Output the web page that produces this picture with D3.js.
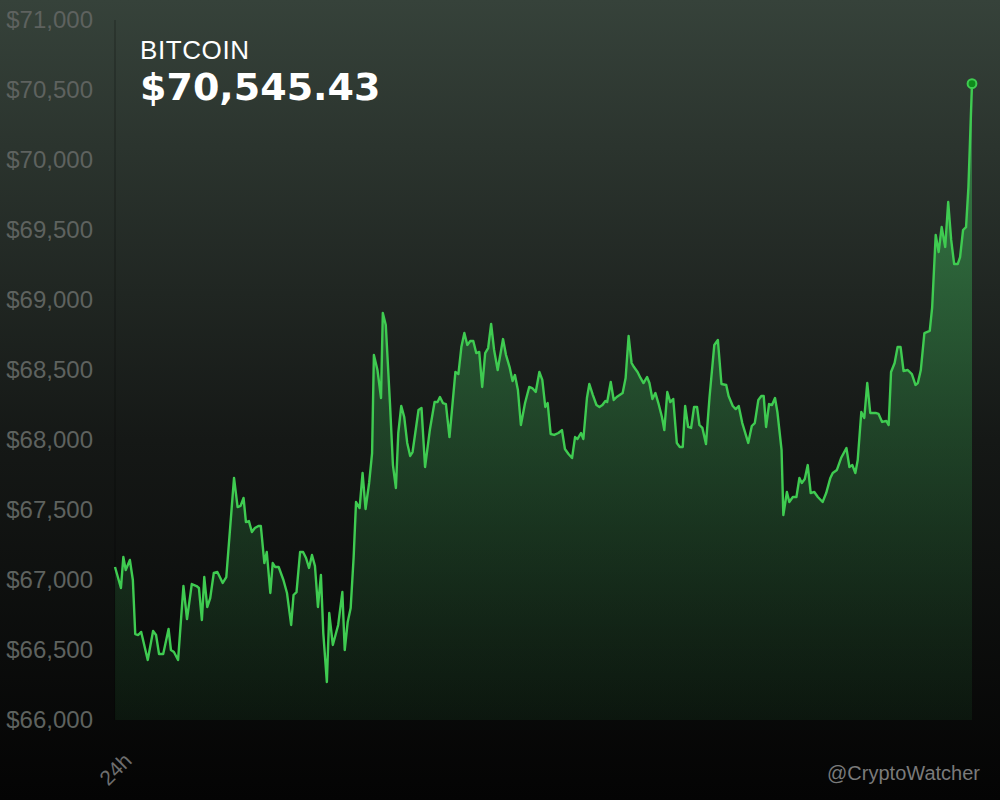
<!DOCTYPE html>
<html>
<head>
<meta charset="utf-8">
<script src="https://cdn.jsdelivr.net/npm/d3@7"></script>
<style>
  html, body { margin: 0; padding: 0; background: #050505; }
  svg { display: block; font-family: "Liberation Sans", Arial, sans-serif; }
</style>
</head>
<body>
<div id="chart"></div>
<script>
// Minutes since the start of the 24h window
var minutes = [
  0, 10, 14, 18, 25, 30, 34, 39, 44, 55, 64, 69, 74, 81, 90, 94, 99, 106, 115, 121,
  129, 137, 141, 146, 150, 155, 160, 166, 172, 181, 187, 200, 206, 211, 216, 220, 225, 230, 235, 241,
  245, 251, 255, 261, 265, 269, 275, 283, 289, 296, 300, 305, 311, 316, 321, 326, 331, 336, 341, 346,
  350, 356, 360, 366, 375, 382, 386, 391, 396, 401, 405, 411, 416, 421, 427, 432, 435, 441, 447, 450,
  455, 462, 467, 472, 476, 481, 486, 491, 496, 500, 510, 515, 521, 529, 537, 542, 546, 551, 556, 562,
  572, 577, 582, 587, 592, 597, 602, 607, 612, 617, 622, 627, 632, 637, 643, 652, 657, 663, 668, 672,
  677, 682, 689, 696, 701, 707, 713, 718, 723, 727, 732, 738, 745, 751, 756, 762, 768, 773, 777, 783,
  787, 793, 797, 803, 809, 814, 819, 824, 827, 833, 838, 843, 848, 853, 858, 863, 868, 872, 878, 883,
  888, 894, 898, 903, 908, 913, 919, 923, 928, 933, 938, 944, 949, 954, 958, 963, 968, 973, 978, 982,
  987, 993, 999, 1007, 1013, 1019, 1027, 1031, 1038, 1043, 1048, 1054, 1064, 1070, 1075, 1081, 1086, 1090, 1094, 1099,
  1104, 1109, 1113, 1120, 1123, 1129, 1133, 1139, 1145, 1150, 1154, 1159, 1164, 1169, 1175, 1181, 1189, 1195, 1202, 1206,
  1213, 1220, 1229, 1234, 1239, 1244, 1248, 1254, 1259, 1264, 1269, 1278, 1283, 1289, 1296, 1300, 1304, 1310, 1315, 1320,
  1325, 1332, 1339, 1345, 1349, 1354, 1360, 1369, 1373, 1379, 1384, 1389, 1395, 1400, 1405, 1410, 1416, 1420, 1425, 1430,
  1434, 1440
];

// BTC price (USD) at each of those minutes
var prices = [
  67093, 66943, 67164, 67071, 67143, 67000, 66614, 66607, 66629, 66429, 66636, 66607, 66471, 66471, 66650, 66500, 66486, 66429, 66957, 66721,
  66971, 66957, 66943, 66714, 67021, 66807, 66871, 67050, 67057, 66979, 67021, 67729, 67521, 67529, 67586, 67414, 67421, 67343, 67371, 67386,
  67386, 67121, 67200, 66907, 67121, 67093, 67093, 67000, 66907, 66679, 66893, 66914, 67200, 67200, 67157, 67086, 67179, 67100, 66807, 67036,
  66621, 66271, 66764, 66536, 66679, 66914, 66500, 66700, 66800, 67164, 67557, 67514, 67764, 67507, 67693, 67907, 68607, 68500, 68300, 68907,
  68821, 68264, 67821, 67657, 68050, 68243, 68164, 67979, 67886, 67914, 68214, 68229, 67807, 68071, 68271, 68271, 68307, 68264, 68257, 68021,
  68486, 68471, 68664, 68764, 68679, 68707, 68707, 68621, 68629, 68379, 68621, 68657, 68829, 68643, 68500, 68721, 68607, 68521, 68421, 68464,
  68357, 68107, 68264, 68379, 68371, 68343, 68486, 68429, 68236, 68264, 68043, 68036, 68050, 68071, 67936, 67900, 67871, 68021, 68007, 68050,
  68007, 68300, 68400, 68321, 68250, 68236, 68250, 68279, 68271, 68414, 68286, 68307, 68321, 68336, 68443, 68743, 68550, 68521, 68486, 68443,
  68407, 68450, 68407, 68293, 68336, 68264, 68164, 68071, 68343, 68271, 68293, 67979, 67950, 67950, 68243, 68093, 68086, 68236, 68236, 68107,
  68086, 67971, 68307, 68679, 68714, 68400, 68393, 68314, 68243, 68221, 68243, 68121, 67979, 68100, 68121, 68286, 68314, 68314, 68093, 68257,
  68250, 68300, 68200, 67929, 67464, 67629, 67557, 67593, 67593, 67729, 67693, 67721, 67821, 67621, 67629, 67593, 67557, 67621, 67729, 67764,
  67786, 67871, 67943, 67807, 67821, 67764, 67857, 68200, 68157, 68407, 68193, 68193, 68186, 68129, 68136, 68107, 68486, 68550, 68664, 68664,
  68493, 68500, 68471, 68393, 68407, 68500, 68764, 68779, 68943, 69464, 69343, 69521, 69379, 69700, 69429, 69257, 69257, 69307, 69500, 69521,
  69807, 70545.43
];

var yTicks = [66000, 66500, 67000, 67500, 68000, 68500, 69000, 69500, 70000, 70500, 71000];
var coinName = "BITCOIN";
var currentPrice = 70545.43;
var periodLabel = "24h";
var credit = "@CryptoWatcher";

var data = minutes.map(function(m, i) { return { t: m, p: prices[i] }; });

var svgWidth = 1000;
var svgHeight = 800;
var margin = { top: 20, right: 28, bottom: 80, left: 115 };
var width = svgWidth - margin.left - margin.right;
var height = svgHeight - margin.top - margin.bottom;

var svg = d3.select("#chart")
    .append("svg")
    .attr("width", svgWidth)
    .attr("height", svgHeight);

var defs = svg.append("defs");

// page background gradient
var bg = defs.append("linearGradient")
    .attr("id", "bgGrad")
    .attr("x1", 0).attr("y1", 0).attr("x2", 0).attr("y2", 1);
bg.append("stop").attr("offset", "0%").attr("stop-color", "#36423a");
bg.append("stop").attr("offset", "55%").attr("stop-color", "#151816");
bg.append("stop").attr("offset", "100%").attr("stop-color", "#040404");

// area fill gradient
var ag = defs.append("linearGradient")
    .attr("id", "areaGrad")
    .attr("gradientUnits", "userSpaceOnUse")
    .attr("x1", 0).attr("y1", 80).attr("x2", 0).attr("y2", 720);
ag.append("stop").attr("offset", "0%").attr("stop-color", "#3a9a50").attr("stop-opacity", 0.75);
ag.append("stop").attr("offset", "100%").attr("stop-color", "#1f5a2c").attr("stop-opacity", 0.15);

svg.append("rect")
    .attr("width", svgWidth)
    .attr("height", svgHeight)
    .attr("fill", "url(#bgGrad)");

var chartGroup = svg.append("g")
    .attr("transform", `translate(${margin.left}, ${margin.top})`);

var xScale = d3.scaleLinear()
    .domain([0, 1440])
    .range([0, width]);

var yScale = d3.scaleLinear()
    .domain([66000, 71000])
    .range([height, 0]);

// faint left edge line
chartGroup.append("line")
    .attr("x1", 0).attr("x2", 0)
    .attr("y1", 0).attr("y2", height)
    .attr("stroke", "rgba(0,0,0,0.35)")
    .attr("stroke-width", 1);

// Y axis labels
var leftAxis = d3.axisLeft(yScale)
    .tickValues(yTicks)
    .tickSize(0)
    .tickPadding(22)
    .tickFormat(function(d) { return "$" + d3.format(",")(d); });

var yAxisG = chartGroup.append("g").call(leftAxis);
yAxisG.select(".domain").remove();
yAxisG.selectAll("text")
    .attr("fill", "#5e625f")
    .style("font-size", "24px")
    .style("font-family", "'Liberation Sans', Arial, sans-serif");

// area
var area = d3.area()
    .x(d => xScale(d.t))
    .y0(height)
    .y1(d => yScale(d.p));

chartGroup.append("path")
    .datum(data)
    .attr("d", area)
    .attr("fill", "url(#areaGrad)");

// line
var line = d3.line()
    .x(d => xScale(d.t))
    .y(d => yScale(d.p));

chartGroup.append("path")
    .datum(data)
    .attr("d", line)
    .attr("fill", "none")
    .attr("stroke", "#3fcb51")
    .attr("stroke-width", 2.4)
    .attr("stroke-linejoin", "round");

// end marker
var last = data[data.length - 1];
chartGroup.append("circle")
    .attr("cx", xScale(last.t))
    .attr("cy", yScale(last.p))
    .attr("r", 4.4)
    .attr("fill", "#0f8a1c")
    .attr("stroke", "#3fcb51")
    .attr("stroke-width", 2);

// title
svg.append("text")
    .attr("x", 140)
    .attr("y", 59)
    .attr("fill", "#ffffff")
    .style("font-size", "26px")
    .style("letter-spacing", "0.6px")
    .text(coinName);

svg.append("text")
    .attr("x", 140)
    .attr("y", 100)
    .attr("fill", "#ffffff")
    .style("font-family", "'DejaVu Sans', sans-serif")
    .style("font-size", "38px")
    .style("font-weight", "bold")
    .text("$" + d3.format(",.2f")(currentPrice));

// x label
svg.append("text")
    .attr("transform", "translate(133, 762) rotate(-45)")
    .attr("text-anchor", "end")
    .attr("fill", "#6e6e6e")
    .style("font-size", "21px")
    .text(periodLabel);

// credit
svg.append("text")
    .attr("x", 980)
    .attr("y", 780)
    .attr("text-anchor", "end")
    .attr("fill", "#7a7a7a")
    .style("font-size", "20px")
    .text(credit);
</script>
</body>
</html>
